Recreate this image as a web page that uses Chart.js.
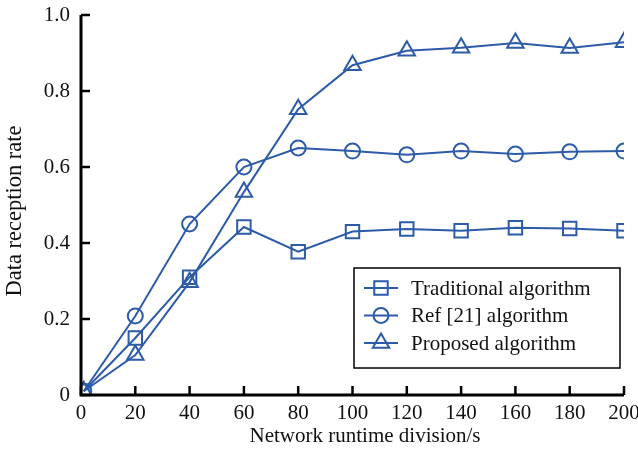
<!DOCTYPE html>
<html><head><meta charset="utf-8">
<script src="https://cdn.jsdelivr.net/npm/chart.js@4/dist/chart.umd.min.js"></script>
<style>html,body{margin:0;padding:0;background:#fff}#wrap{width:638px;height:450px}</style>
</head><body><div id="wrap"><canvas id="c" width="638" height="450"></canvas></div>
<script>
const xValues = [1, 20, 40, 60, 80, 100, 120, 140, 160, 180, 200];
const traditional = [0.01, 0.15, 0.31, 0.442, 0.377, 0.43, 0.437, 0.432, 0.44, 0.438, 0.432];
const ref21 = [0.01, 0.208, 0.45, 0.6, 0.65, 0.642, 0.632, 0.642, 0.634, 0.64, 0.642];
const proposed = [0.01, 0.105, 0.297, 0.534, 0.752, 0.868, 0.906, 0.914, 0.926, 0.913, 0.928];
const seriesNames = ['Traditional algorithm', 'Ref [21] algorithm', 'Proposed algorithm'];
const xTicks = [0, 20, 40, 60, 80, 100, 120, 140, 160, 180, 200];
const yTicks = [0, 0.2, 0.4, 0.6, 0.8, 1.0];
const xTitle = 'Network runtime division/s';
const yTitle = 'Data reception rate';

const BLUE = '#2d5ba8';
const FONT = "'Liberation Serif', 'Times New Roman', serif";

function pts(arr){ return xValues.map((x,i)=>({x:x,y:arr[i]})); }
function ds(label, data, style, radius){
  return {label, data: pts(data), borderColor: BLUE, borderWidth: 2, pointStyle: style,
    pointRadius: radius, pointHoverRadius: radius, pointBorderColor: BLUE, pointBorderWidth: 2,
    pointBackgroundColor: 'rgba(0,0,0,0)', tension: 0, fill: false};
}

const axisPlugin = {
  id: 'axisPlugin',
  afterDraw(chart){
    const ctx = chart.ctx, a = chart.chartArea, xs = chart.scales.x, ys = chart.scales.y;
    ctx.save();
    ctx.strokeStyle = '#000'; ctx.lineWidth = 3;
    ctx.beginPath();
    ctx.moveTo(a.left, a.top); ctx.lineTo(a.left, a.bottom); ctx.lineTo(a.right, a.bottom);
    ctx.stroke();
    ctx.lineWidth = 2.5;
    xTicks.forEach(v=>{ const p = xs.getPixelForValue(v); ctx.beginPath(); ctx.moveTo(p, a.bottom); ctx.lineTo(p, a.bottom-9); ctx.stroke(); });
    yTicks.forEach(v=>{ const p = ys.getPixelForValue(v); ctx.beginPath(); ctx.moveTo(a.left, p); ctx.lineTo(a.left+9, p); ctx.stroke(); });
    // axis titles
    ctx.fillStyle = '#111'; ctx.textAlign = 'center'; ctx.textBaseline = 'middle';
    ctx.font = '21px ' + FONT;
    ctx.fillText(xTitle, 365, 436);
    ctx.save();
    ctx.translate(15, 211); ctx.rotate(-Math.PI/2);
    ctx.font = '22.5px ' + FONT;
    ctx.fillText(yTitle, 0, 0);
    ctx.restore();
    // legend
    ctx.textAlign = 'left';
    const bx = 354, by = 268, bw = 266, bh = 100;
    ctx.fillStyle = '#fff'; ctx.fillRect(bx, by, bw, bh);
    ctx.strokeStyle = '#000'; ctx.lineWidth = 1.5; ctx.strokeRect(bx, by, bw, bh);
    ctx.font = '21px ' + FONT; ctx.textBaseline = 'middle';
    chart.data.datasets.forEach((d,i)=>{
      const cy = by + 20 + i*27.5;
      ctx.strokeStyle = BLUE; ctx.lineWidth = 2;
      ctx.beginPath(); ctx.moveTo(bx+10, cy); ctx.lineTo(bx+44, cy); ctx.stroke();
      ctx.fillStyle = 'rgba(0,0,0,0)';
      Chart.helpers.drawPoint(ctx, {pointStyle: d.pointStyle, radius: d.pointRadius, borderWidth: 2}, bx+27, cy);
      ctx.fillStyle = '#111';
      ctx.fillText(d.label, bx+57, cy+1);
    });
    ctx.restore();
  }
};

new Chart(document.getElementById('c'), {
  type: 'line',
  data: { datasets: [
    ds(seriesNames[0], traditional, 'rect', 9.5),
    ds(seriesNames[1], ref21, 'circle', 7.5),
    ds(seriesNames[2], proposed, 'triangle', 9.5)
  ]},
  options: {
    responsive: false, animation: false,
    layout: { padding: { top: 15, right: 14, left: 0, bottom: 0 } },
    plugins: { legend: { display: false }, tooltip: { enabled: false } },
    scales: {
      x: { type: 'linear', min: 0, max: 200,
        afterBuildTicks(s){ s.ticks = xTicks.map(v=>({value:v})); },
        afterFit(s){ s.height = 55; s.paddingLeft = 0; s.paddingRight = 0; },
        grid: { display: false, drawTicks: false }, border: { display: false },
        ticks: { color: '#111', font: { family: FONT, size: 21 }, padding: 6, maxRotation: 0 },
        title: { display: false } },
      y: { min: 0, max: 1,
        afterBuildTicks(s){ s.ticks = yTicks.map(v=>({value:v})); },
        afterFit(s){ s.width = 81; s.paddingTop = 0; s.paddingBottom = 0; },
        grid: { display: false, drawTicks: false }, border: { display: false },
        ticks: { color: '#111', font: { family: FONT, size: 21 }, padding: 11,
          callback: v => v === 0 ? '0' : v.toFixed(1) },
        title: { display: false } }
    }
  },
  plugins: [axisPlugin]
});
</script></body></html>
